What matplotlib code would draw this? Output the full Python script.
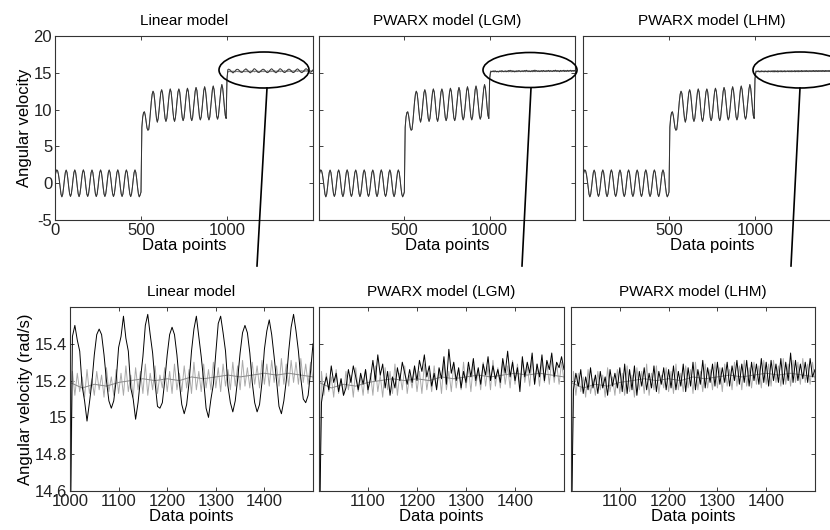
import numpy as np
import matplotlib
matplotlib.use("Agg")
import matplotlib.pyplot as plt
from matplotlib.patches import Ellipse
from matplotlib.lines import Line2D

plt.rcParams['font.family'] = ['Liberation Sans', 'DejaVu Sans']
plt.rcParams['axes.unicode_minus'] = False

# sample positions (every 5th data point)
x_ab = np.arange(0, 1000, 5)
x_c = np.arange(1000, 1505, 5)
x_trend = np.arange(1000, 1525, 25)

# angular velocity, data points 0..995 (same for all models at this scale)
seg_ab = [
    0.9, 1.5, 1.8, 1.7, 1.2, 0.4, -0.6, -1.5, -1.85, -1.5,
    -0.55, 0.55, 1.45, 1.78, 1.45, 0.55, -0.55, -1.45, -1.8, -1.45,
    -0.56, 0.56, 1.46, 1.8, 1.46, 0.56, -0.56, -1.46, -1.82, -1.46,
    -0.55, 0.57, 1.47, 1.81, 1.46, 0.55, -0.57, -1.47, -1.8, -1.45,
    -0.56, 0.56, 1.45, 1.79, 1.45, 0.56, -0.56, -1.46, -1.81, -1.46,
    -0.55, 0.56, 1.46, 1.8, 1.46, 0.55, -0.56, -1.46, -1.8, -1.46,
    -0.56, 0.55, 1.45, 1.79, 1.46, 0.56, -0.55, -1.45, -1.81, -1.45,
    -0.56, 0.56, 1.46, 1.81, 1.45, 0.56, -0.56, -1.46, -1.8, -1.46,
    -0.55, 0.56, 1.46, 1.8, 1.46, 0.55, -0.56, -1.47, -1.82, -1.46,
    -0.56, 0.56, 1.46, 1.8, 1.46, 0.56, -0.56, -1.46, -1.85, -1.6,
    -1.2, 7.6, 9.0, 9.6, 9.7, 9.2, 8.3, 7.5, 7.2, 7.3,
    8.3, 9.7, 11.1, 12.1, 12.5, 12.2, 11.2, 9.9, 8.8, 8.3,
    8.8, 9.9, 11.2, 12.3, 12.7, 12.3, 11.2, 9.9, 8.8, 8.4,
    8.8, 9.9, 11.2, 12.3, 12.8, 12.4, 11.3, 9.9, 8.8, 8.4,
    8.9, 10.0, 11.3, 12.4, 12.8, 12.4, 11.3, 10.0, 8.9, 8.5,
    8.9, 10.0, 11.3, 12.4, 12.9, 12.5, 11.4, 10.0, 8.9, 8.5,
    8.9, 10.1, 11.4, 12.5, 13.0, 12.6, 11.4, 10.1, 9.0, 8.6,
    9.0, 10.1, 11.4, 12.6, 13.1, 12.6, 11.5, 10.1, 9.0, 8.6,
    9.0, 10.2, 11.5, 12.7, 13.2, 12.7, 11.5, 10.2, 9.1, 8.7,
    9.1, 10.3, 11.6, 12.8, 13.4, 12.9, 11.7, 10.3, 9.2, 8.8,
]

# measured angular velocity, data points 1000..1500
meas_c = [
    14.2,
    15.25, 15.12, 15.24, 15.14, 15.22, 15.11, 15.26, 15.13, 15.21,
    15.12, 15.25, 15.15, 15.23, 15.11, 15.27, 15.14, 15.22, 15.12, 15.26,
    15.13, 15.24, 15.12, 15.28, 15.14, 15.23, 15.11, 15.27, 15.15, 15.25,
    15.13, 15.29, 15.12, 15.24, 15.15, 15.28, 15.13, 15.23, 15.16, 15.27,
    15.14, 15.25, 15.13, 15.29, 15.15, 15.24, 15.14, 15.28, 15.16, 15.26,
    15.13, 15.30, 15.15, 15.25, 15.14, 15.29, 15.16, 15.26, 15.15, 15.30,
    15.16, 15.27, 15.14, 15.29, 15.17, 15.26, 15.15, 15.30, 15.17, 15.28,
    15.15, 15.31, 15.17, 15.27, 15.16, 15.30, 15.18, 15.28, 15.16, 15.31,
    15.18, 15.29, 15.17, 15.31, 15.19, 15.28, 15.17, 15.32, 15.18, 15.29,
    15.17, 15.31, 15.19, 15.30, 15.18, 15.32, 15.19, 15.29, 15.18, 15.30,
    15.20,
]

# slowly varying mean of the measurement (every 25th point)
trend_c = [15.19, 15.16, 15.18, 15.17, 15.19, 15.20, 15.21, 15.20, 15.21, 15.20,
           15.22, 15.21, 15.22, 15.23, 15.22, 15.23, 15.24, 15.23, 15.24, 15.23, 15.22]

# model outputs, data points 1000..1500
linear_c = [
    14.2,
    15.44, 15.50, 15.42, 15.36, 15.17, 15.09, 14.98, 15.08, 15.19,
    15.34, 15.45, 15.48, 15.45, 15.34, 15.20, 15.09, 15.05, 15.09, 15.20,
    15.38, 15.44, 15.55, 15.43, 15.36, 15.16, 15.10, 14.99, 15.08, 15.21,
    15.33, 15.50, 15.56, 15.45, 15.35, 15.19, 15.06, 15.05, 15.08, 15.20,
    15.34, 15.45, 15.49, 15.45, 15.34, 15.19, 15.07, 15.02, 15.07, 15.19,
    15.36, 15.48, 15.55, 15.44, 15.33, 15.20, 15.05, 15.00, 15.10, 15.18,
    15.35, 15.51, 15.55, 15.46, 15.36, 15.17, 15.08, 15.03, 15.09, 15.21,
    15.35, 15.46, 15.50, 15.46, 15.35, 15.19, 15.08, 15.03, 15.07, 15.19,
    15.37, 15.47, 15.53, 15.45, 15.33, 15.20, 15.06, 15.02, 15.09, 15.20,
    15.36, 15.49, 15.56, 15.47, 15.36, 15.21, 15.10, 15.08, 15.12, 15.25,
    15.40,
]
lgm_c = [
    14.2,
    15.08, 15.17, 15.22, 15.15, 15.28, 15.19, 15.24, 15.14, 15.21,
    15.12, 15.16, 15.26, 15.19, 15.28, 15.22, 15.15, 15.24, 15.18, 15.26,
    15.15, 15.21, 15.31, 15.20, 15.34, 15.23, 15.29, 15.16, 15.25, 15.12,
    15.22, 15.16, 15.27, 15.20, 15.30, 15.24, 15.18, 15.26, 15.19, 15.28,
    15.20, 15.31, 15.25, 15.34, 15.22, 15.28, 15.17, 15.24, 15.15, 15.27,
    15.21, 15.33, 15.18, 15.37, 15.24, 15.30, 15.20, 15.27, 15.16, 15.25,
    15.19, 15.30, 15.22, 15.32, 15.20, 15.27, 15.18, 15.29, 15.23, 15.33,
    15.20, 15.28, 15.21, 15.26, 15.19, 15.32, 15.24, 15.36, 15.22, 15.30,
    15.20, 15.27, 15.14, 15.33, 15.22, 15.30, 15.24, 15.35, 15.18, 15.29,
    15.22, 15.34, 15.20, 15.31, 15.26, 15.35, 15.22, 15.30, 15.27, 15.33,
    15.26,
]
lhm_c = [
    14.2,
    15.15, 15.24, 15.17, 15.26, 15.13, 15.22, 15.15, 15.27, 15.16,
    15.23, 15.13, 15.25, 15.16, 15.22, 15.12, 15.26, 15.17, 15.24, 15.16,
    15.27, 15.14, 15.29, 15.13, 15.26, 15.15, 15.28, 15.12, 15.25, 15.17,
    15.27, 15.15, 15.24, 15.16, 15.28, 15.14, 15.25, 15.18, 15.27, 15.15,
    15.26, 15.16, 15.28, 15.15, 15.25, 15.17, 15.29, 15.14, 15.27, 15.17,
    15.30, 15.15, 15.26, 15.18, 15.31, 15.16, 15.27, 15.19, 15.29, 15.17,
    15.30, 15.18, 15.27, 15.19, 15.30, 15.17, 15.28, 15.20, 15.31, 15.18,
    15.29, 15.19, 15.31, 15.17, 15.30, 15.20, 15.29, 15.18, 15.32, 15.19,
    15.30, 15.17, 15.31, 15.20, 15.29, 15.19, 15.32, 15.18, 15.30, 15.20,
    15.35, 15.19, 15.31, 15.20, 15.29, 15.21, 15.30, 15.19, 15.32, 15.22,
    15.26,
]

titles = ['Linear model', 'PWARX model (LGM)', 'PWARX model (LHM)']
models = [linear_c, lgm_c, lhm_c]

W, H = 830, 530
fig = plt.figure(figsize=(W / 100, H / 100), dpi=100)


def px_axes(left, top, right, bottom):
    return fig.add_axes([left / W, 1 - bottom / H, (right - left) / W, (bottom - top) / H])


def matlab_style(ax):
    ax.tick_params(direction='in', top=True, right=True, length=3, width=0.6,
                   labelsize=12, pad=2, colors='#222')
    for s in ax.spines.values():
        s.set_linewidth(0.8)
        s.set_color('#333')


top_boxes = [(55, 36, 313, 220), (319, 36, 575, 220), (583, 36, 841, 220)]
bot_boxes = [(70, 307, 313, 491), (319, 307, 564, 491), (571, 307, 815, 491)]

x_full = np.concatenate([x_ab, x_c])

# top row: whole experiment
for i, box in enumerate(top_boxes):
    ax = px_axes(*box)
    ax.plot(x_full, seg_ab + meas_c, color='#777', lw=0.7)
    ax.plot(x_full, seg_ab + models[i], color='#333', lw=0.7)
    ax.set_xlim(0, 1500)
    ax.set_ylim(-5, 20)
    ax.set_yticks([-5, 0, 5, 10, 15, 20])
    if i == 0:
        ax.set_xticks([0, 500, 1000])
        ax.set_ylabel('Angular velocity', fontsize=12, labelpad=1)
    else:
        ax.set_xticks([500, 1000])
        ax.set_yticklabels([])
    ax.set_xlabel('Data points', fontsize=12, labelpad=0)
    ax.set_title(titles[i], fontsize=11, pad=8)
    matlab_style(ax)

# bottom row: zoom on the last segment
for i, box in enumerate(bot_boxes):
    ax = px_axes(*box)
    ax.plot(x_c, meas_c, color='#aaa', lw=0.7)
    ax.plot(x_trend, trend_c, color='#888', lw=0.7)
    ax.plot(x_c, models[i], color='#000', lw=0.7)
    ax.set_xlim(1000, 1500)
    ax.set_ylim(14.6, 15.6)
    ax.set_yticks([14.6, 14.8, 15.0, 15.2, 15.4])
    if i == 0:
        ax.set_xticks([1000, 1100, 1200, 1300, 1400])
        ax.set_yticklabels(['14.6', '14.8', '15', '15.2', '15.4'])
        ax.set_ylabel('Angular velocity (rad/s)', fontsize=12, labelpad=1)
    else:
        ax.set_xticks([1100, 1200, 1300, 1400])
        ax.set_yticklabels([])
    ax.set_xlabel('Data points', fontsize=12, labelpad=0)
    ax.set_title(titles[i], fontsize=11, pad=8)
    matlab_style(ax)

# ellipses marking the zoomed region, with connecting lines
ellipses = [(264, 70, 90, 36), (530, 70, 94, 35), (800, 70, 94, 36)]
leaders = [((267, 88), (257, 266)), ((531, 88), (522, 266)), ((800, 88), (791, 266))]
for (cx, cy, w, h), ((x0, y0), (x1, y1)) in zip(ellipses, leaders):
    fig.add_artist(Ellipse((cx / W, 1 - cy / H), w / W, h / H, fill=False,
                           edgecolor='#000', lw=1.2, transform=fig.transFigure))
    fig.add_artist(Line2D([x0 / W, x1 / W], [1 - y0 / H, 1 - y1 / H],
                          color='#000', lw=1.2, transform=fig.transFigure))

fig.savefig('out.png', dpi=100)
